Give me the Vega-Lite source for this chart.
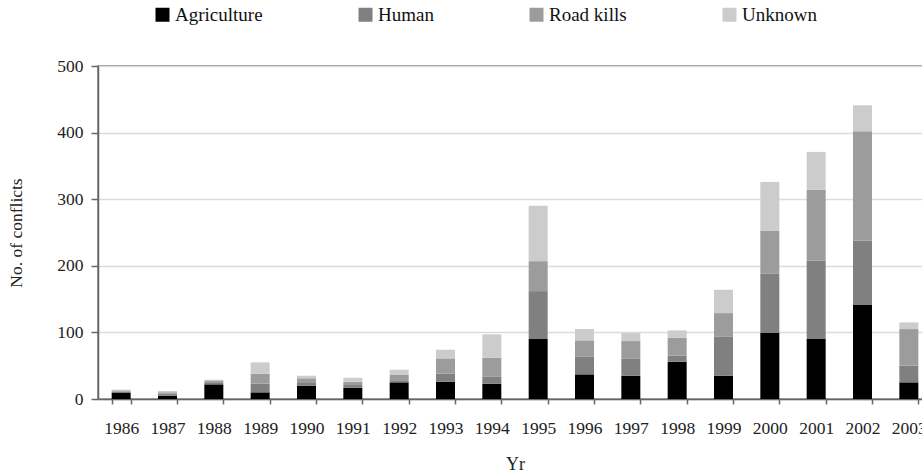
{
  "$schema": "https://vega.github.io/schema/vega-lite/v6.json",
  "autosize": "none",
  "width": 834,
  "height": 333,
  "padding": {"left": 98, "top": 66, "right": 0, "bottom": 71},
  "background": "white",
  "data": {"values": [
    {"Yr": "1986", "cause": "Agriculture", "n": 9}, {"Yr": "1986", "cause": "Human", "n": 2}, {"Yr": "1986", "cause": "Road kills", "n": 2}, {"Yr": "1986", "cause": "Unknown", "n": 1},
    {"Yr": "1987", "cause": "Agriculture", "n": 5}, {"Yr": "1987", "cause": "Human", "n": 3}, {"Yr": "1987", "cause": "Road kills", "n": 2}, {"Yr": "1987", "cause": "Unknown", "n": 2},
    {"Yr": "1988", "cause": "Agriculture", "n": 22}, {"Yr": "1988", "cause": "Human", "n": 2}, {"Yr": "1988", "cause": "Road kills", "n": 3}, {"Yr": "1988", "cause": "Unknown", "n": 2},
    {"Yr": "1989", "cause": "Agriculture", "n": 10}, {"Yr": "1989", "cause": "Human", "n": 13}, {"Yr": "1989", "cause": "Road kills", "n": 15}, {"Yr": "1989", "cause": "Unknown", "n": 17},
    {"Yr": "1990", "cause": "Agriculture", "n": 20}, {"Yr": "1990", "cause": "Human", "n": 4}, {"Yr": "1990", "cause": "Road kills", "n": 7}, {"Yr": "1990", "cause": "Unknown", "n": 4},
    {"Yr": "1991", "cause": "Agriculture", "n": 17}, {"Yr": "1991", "cause": "Human", "n": 4}, {"Yr": "1991", "cause": "Road kills", "n": 5}, {"Yr": "1991", "cause": "Unknown", "n": 6},
    {"Yr": "1992", "cause": "Agriculture", "n": 25}, {"Yr": "1992", "cause": "Human", "n": 2}, {"Yr": "1992", "cause": "Road kills", "n": 9}, {"Yr": "1992", "cause": "Unknown", "n": 8},
    {"Yr": "1993", "cause": "Agriculture", "n": 26}, {"Yr": "1993", "cause": "Human", "n": 12}, {"Yr": "1993", "cause": "Road kills", "n": 23}, {"Yr": "1993", "cause": "Unknown", "n": 13},
    {"Yr": "1994", "cause": "Agriculture", "n": 23}, {"Yr": "1994", "cause": "Human", "n": 11}, {"Yr": "1994", "cause": "Road kills", "n": 28}, {"Yr": "1994", "cause": "Unknown", "n": 35},
    {"Yr": "1995", "cause": "Agriculture", "n": 90}, {"Yr": "1995", "cause": "Human", "n": 72}, {"Yr": "1995", "cause": "Road kills", "n": 45}, {"Yr": "1995", "cause": "Unknown", "n": 83},
    {"Yr": "1996", "cause": "Agriculture", "n": 37}, {"Yr": "1996", "cause": "Human", "n": 27}, {"Yr": "1996", "cause": "Road kills", "n": 24}, {"Yr": "1996", "cause": "Unknown", "n": 17},
    {"Yr": "1997", "cause": "Agriculture", "n": 35}, {"Yr": "1997", "cause": "Human", "n": 26}, {"Yr": "1997", "cause": "Road kills", "n": 26}, {"Yr": "1997", "cause": "Unknown", "n": 12},
    {"Yr": "1998", "cause": "Agriculture", "n": 56}, {"Yr": "1998", "cause": "Human", "n": 9}, {"Yr": "1998", "cause": "Road kills", "n": 27}, {"Yr": "1998", "cause": "Unknown", "n": 11},
    {"Yr": "1999", "cause": "Agriculture", "n": 35}, {"Yr": "1999", "cause": "Human", "n": 59}, {"Yr": "1999", "cause": "Road kills", "n": 35}, {"Yr": "1999", "cause": "Unknown", "n": 35},
    {"Yr": "2000", "cause": "Agriculture", "n": 99}, {"Yr": "2000", "cause": "Human", "n": 89}, {"Yr": "2000", "cause": "Road kills", "n": 65}, {"Yr": "2000", "cause": "Unknown", "n": 73},
    {"Yr": "2001", "cause": "Agriculture", "n": 90}, {"Yr": "2001", "cause": "Human", "n": 118}, {"Yr": "2001", "cause": "Road kills", "n": 106}, {"Yr": "2001", "cause": "Unknown", "n": 57},
    {"Yr": "2002", "cause": "Agriculture", "n": 142}, {"Yr": "2002", "cause": "Human", "n": 96}, {"Yr": "2002", "cause": "Road kills", "n": 164}, {"Yr": "2002", "cause": "Unknown", "n": 39},
    {"Yr": "2003", "cause": "Agriculture", "n": 25}, {"Yr": "2003", "cause": "Human", "n": 25}, {"Yr": "2003", "cause": "Road kills", "n": 55}, {"Yr": "2003", "cause": "Unknown", "n": 10}
  ]},
  "mark": {"type": "bar"},
  "encoding": {
    "x": {
      "field": "Yr", "type": "ordinal", "title": "Yr",
      "scale": {"paddingInner": 0.59, "paddingOuter": 0.295},
      "axis": {
        "labelAngle": 0, "tickBand": "extent", "tickSize": 5, "labelPadding": 15,
        "labelFont": "Liberation Serif", "labelFontSize": 17.5, "labelColor": "#222",
        "titleFont": "Liberation Serif", "titleFontSize": 18, "titleFontWeight": "normal", "titleColor": "#222", "titlePadding": 19,
        "domainColor": "#666", "tickColor": "#666", "grid": false
      }
    },
    "y": {
      "field": "n", "type": "quantitative", "stack": "zero", "title": "No. of conflicts",
      "scale": {"domain": [0, 500], "nice": false},
      "axis": {
        "values": [0, 100, 200, 300, 400, 500], "tickSize": 7, "labelPadding": 8,
        "labelFont": "Liberation Serif", "labelFontSize": 17.5, "labelColor": "#222",
        "titleFont": "Liberation Serif", "titleFontSize": 17.5, "titleFontWeight": "normal", "titleColor": "#222", "titlePadding": 31,
        "domainColor": "#666", "tickColor": "#666", "gridColor": "#dcdcdc", "gridWidth": 1.5
      }
    },
    "color": {
      "field": "cause", "type": "nominal", "title": null,
      "scale": {"domain": ["Agriculture", "Human", "Road kills", "Unknown"], "range": ["#000000", "#808080", "#9c9c9c", "#cccccc"]},
      "legend": {
        "orient": "none", "direction": "horizontal", "legendX": 55, "legendY": -61, "padding": 0,
        "symbolType": "square", "symbolSize": 196, "symbolStrokeWidth": 0, "symbolOpacity": 1,
        "labelFont": "Liberation Serif", "labelFontSize": 19, "labelColor": "#111", "labelOffset": 3,
        "columnPadding": 93
      }
    },
    "order": {"field": "cause"}
  },
  "config": {
    "view": {"stroke": "#777", "strokeWidth": 1.5},
    "axis": {"domainWidth": 1.5, "tickWidth": 1.5}
  }
}
